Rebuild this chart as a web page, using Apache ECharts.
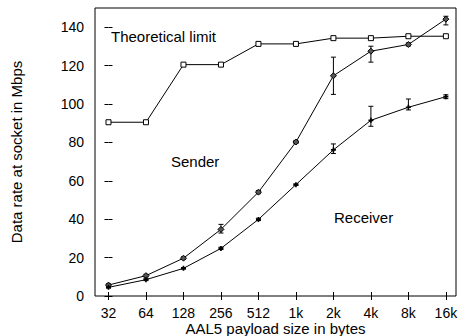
<!DOCTYPE html>
<html>
<head>
<meta charset="utf-8">
<script src="https://cdn.jsdelivr.net/npm/echarts@6/dist/echarts.min.js"></script>
<style>
  html, body { margin: 0; padding: 0; background: #fff; }
  #chart { width: 458px; height: 336px; }
</style>
</head>
<body>
<div id="chart"></div>
<script>
const categories = ["32", "64", "128", "256", "512", "1k", "2k", "4k", "8k", "16k"];
const yTicks = [0, 20, 40, 60, 80, 100, 120, 140];

const theoretical = [90.5, 90.5, 120.5, 120.5, 131.3, 131.3, 134.3, 134.3, 135.3, 135.3];

const sender = [5.7, 10.6, 19.7, 34.7, 54.1, 80.2, 114.7, 127.5, 131.0, 144.2];
const senderLow = [5.0, 9.9, 19.0, 32.8, 53.3, 79.4, 105.0, 121.8, 130.2, 141.2];
const senderHigh = [6.4, 11.3, 20.4, 37.3, 54.9, 81.0, 124.4, 130.1, 131.8, 145.7];

const receiver = [4.5, 8.5, 14.4, 24.8, 39.9, 58.0, 76.1, 91.5, 98.3, 103.8];
const receiverLow = [4.1, 8.0, 14.0, 24.2, 39.3, 57.6, 74.2, 88.4, 96.9, 102.8];
const receiverHigh = [4.9, 9.0, 14.8, 25.4, 40.5, 58.4, 79.2, 98.8, 102.6, 104.8];

const font = '"Liberation Sans", Arial, sans-serif';
const idx = categories.map((_, i) => i);

const pairs = (vals) => vals.map((v, i) => [i, v]);
const bars = (lo, hi) => lo.map((v, i) => [i, v, hi[i]]);

// vertical error bar with small caps
const errorBar = (params, api) => {
  const x = api.value(0);
  const lo = api.coord([x, api.value(1)]);
  const hi = api.coord([x, api.value(2)]);
  const cap = 2.5;
  const style = { stroke: "#000", lineWidth: 1 };
  return {
    type: "group",
    children: [
      { type: "line", shape: { x1: lo[0], y1: lo[1], x2: hi[0], y2: hi[1] }, style },
      { type: "line", shape: { x1: lo[0] - cap, y1: lo[1], x2: lo[0] + cap, y2: lo[1] }, style },
      { type: "line", shape: { x1: hi[0] - cap, y1: hi[1], x2: hi[0] + cap, y2: hi[1] }, style },
    ],
  };
};

const xCommon = {
  type: "value",
  min: -0.36,
  max: 9.27,
  splitLine: { show: false },
  axisLine: { show: false },
  axisTick: { inside: true, length: 4, customValues: idx, lineStyle: { color: "#000" } },
};
const yCommon = {
  type: "value",
  min: 0,
  max: 150,
  interval: 20,
  splitLine: { show: false },
  axisLine: { show: false },
  axisTick: { inside: true, length: 4, customValues: yTicks, lineStyle: { color: "#000" } },
};

const chart = echarts.init(document.getElementById("chart"), null, { renderer: "svg" });

chart.setOption({
  animation: false,
  backgroundColor: "#fff",
  textStyle: { fontFamily: font },
  grid: {
    show: true,
    left: 95,
    right: 2,
    top: 8,
    bottom: 40,
    outerBoundsMode: "none",
    containLabel: false,
    borderColor: "#000",
    borderWidth: 1,
    backgroundColor: "transparent",
  },
  xAxis: [
    {
      ...xCommon,
      position: "bottom",
      name: "AAL5 payload size in bytes",
      nameLocation: "middle",
      nameGap: 25,
      nameMoveOverlap: false,
      nameTextStyle: { fontSize: 15, lineHeight: 15, color: "#000", fontFamily: font },
      axisLabel: {
        customValues: idx,
        formatter: (v) => categories[Math.round(v)],
        fontSize: 14,
        lineHeight: 14,
        color: "#000",
        margin: 10,
        fontFamily: font,
      },
    },
    {
      ...xCommon,
      position: "top",
      axisLabel: { show: false },
    },
  ],
  yAxis: [
    {
      ...yCommon,
      position: "left",
      name: "Data rate at socket in Mbps",
      nameLocation: "middle",
      nameGap: 71,
      nameMoveOverlap: false,
      nameTextStyle: { fontSize: 15, color: "#000", fontFamily: font },
      axisLabel: {
        customValues: yTicks,
        fontSize: 14,
        color: "#000",
        margin: 11,
        fontFamily: font,
      },
    },
    {
      ...yCommon,
      position: "right",
      axisLabel: { show: false },
    },
  ],
  series: [
    {
      name: "Theoretical limit",
      type: "line",
      data: pairs(theoretical),
      symbol: "rect",
      symbolSize: 5,
      lineStyle: { color: "#000", width: 1 },
      itemStyle: { color: "#fff", borderColor: "#000", borderWidth: 1 },
    },
    {
      name: "Sender",
      type: "line",
      data: pairs(sender),
      symbol: "diamond",
      symbolSize: 6,
      lineStyle: { color: "#000", width: 1 },
      itemStyle: { color: "#555", borderColor: "#000", borderWidth: 1 },
    },
    {
      name: "Receiver",
      type: "line",
      data: pairs(receiver),
      symbol: "path://M1,0H2V1H3V2H2V3H1V2H0V1H1Z",
      symbolSize: 5,
      lineStyle: { color: "#000", width: 1 },
      itemStyle: { color: "#000" },
    },
    {
      type: "custom",
      renderItem: errorBar,
      data: bars(senderLow, senderHigh),
      z: 3,
    },
    {
      type: "custom",
      renderItem: errorBar,
      data: bars(receiverLow, receiverHigh),
      z: 3,
    },
  ],
  graphic: [
    {
      type: "text",
      left: 111,
      top: 29,
      style: { text: "Theoretical limit", fontSize: 15, fill: "#000", fontFamily: font },
    },
    {
      type: "text",
      left: 171,
      top: 154,
      style: { text: "Sender", fontSize: 15, fill: "#000", fontFamily: font },
    },
    {
      type: "text",
      left: 334,
      top: 210,
      style: { text: "Receiver", fontSize: 15, fill: "#000", fontFamily: font },
    },
  ],
});
</script>
</body>
</html>
